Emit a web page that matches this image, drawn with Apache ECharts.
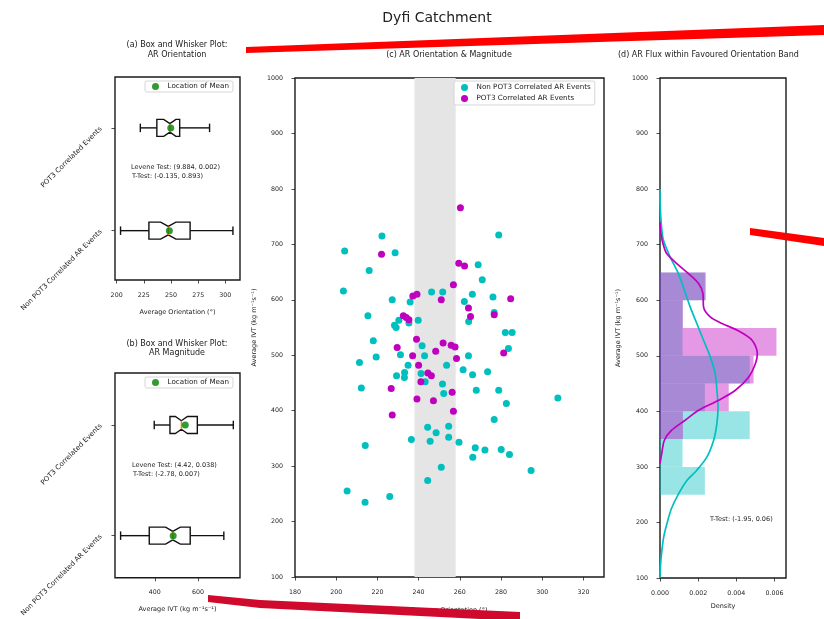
<!DOCTYPE html>
<html><head><meta charset="utf-8">
<script src="https://cdn.jsdelivr.net/npm/echarts@6/dist/echarts.min.js"></script>
<style>html,body{margin:0;padding:0;background:#fff}#c{width:824px;height:619px}</style>
</head><body><div id="c"></div>
<script>
// ---------------- DATA ----------------
const boxCategories = ['Non POT3 Correlated AR Events', 'POT3 Correlated Events'];
// [position, whiskerLow, q1, notchLow, median, notchHigh, q3, whiskerHigh]
const orientBoxes = [[1, 203.6, 229.7, 240.5, 247.5, 254.5, 267.6, 307.0],
                     [2, 221.8, 237.0, 243.3, 249.0, 254.5, 258.0, 285.5]];
const orientMeans = [[248.5, 1], [249.8, 2]];
const ivtBoxes = [[1, 241, 374, 450, 483, 518, 564, 720],
                  [2, 397, 470, 495, 523, 551, 597, 764]];
const ivtMeans = [[485, 1], [541, 2]];

const orientTicks = [200, 225, 250, 275, 300];
const ivtBoxTicks = [400, 600];
const scatterXTicks = [180, 200, 220, 240, 260, 280, 300, 320];
const ivtTicks = [100, 200, 300, 400, 500, 600, 700, 800, 900, 1000];
const densityTicks = [0, 0.002, 0.004, 0.006];

const favouredBand = [238, 258];

// [orientation (deg), IVT]
const nonPot3Events = [[222.2,715],[278.9,717],[204.1,688],[228.6,685],[216.0,653],[268.9,663],[270.9,636],[203.5,616],[227.2,600],[235.9,596],[246.3,614],[251.7,614],[266.1,610],[262.2,597],[276.1,605],[215.4,571],[230.4,563],[228.3,554],[229.1,550],[235.3,558],[239.8,563],[264.3,561],[276.7,577],[282.1,541],[285.4,541],[218.0,526],[241.7,517],[283.6,512],[211.3,487],[219.4,497],[231.2,501],[242.9,499],[264.2,499],[234.9,482],[253.6,482],[229.3,463],[233.2,469],[233.1,460],[241.2,467],[261.6,474],[266.2,465],[273.5,470],[243.2,452],[251.6,448],[212.2,441],[252.2,431],[268.0,437],[278.9,437],[307.6,423],[282.6,413],[276.7,384],[244.4,370],[254.6,372],[248.5,360],[254.6,352],[236.5,348],[245.6,345],[259.6,343],[214.1,337],[267.5,333],[272.2,329],[280.1,330],[284.1,321],[266.3,316],[251.0,298],[294.6,292],[244.4,274],[205.3,255],[226.0,245],[214.0,235]];
const pot3Events = [[260.3,766],[222.0,682],[259.5,666],[262.3,661],[256.9,627],[237.2,607],[239.2,610],[251.0,600],[284.7,602],[264.2,585],[232.6,571],[234.0,568],[235.3,564],[265.2,570],[276.7,573],[239.0,529],[251.9,522],[255.8,518],[257.7,515],[229.6,514],[248.3,507],[281.3,504],[237.1,499],[258.4,494],[240.0,482],[244.5,468],[246.2,463],[241.1,452],[226.7,440],[256.3,433],[239.2,421],[247.2,418],[256.9,399],[227.2,392]];

const ivtBinLow  = [250, 300, 350, 400, 450, 500, 550, 600];
const ivtBinHigh = [300, 350, 400, 450, 500, 550, 600, 650];
const nonPot3Density = [0.00235, 0.00118, 0.0047, 0.00235, 0.0047, 0.00118, 0.00118, 0.00235];
const pot3Density    = [0, 0, 0.0012, 0.0036, 0.0049, 0.0061, 0.0012, 0.0024];

// KDE curves [density, IVT]
const nonPot3Kde = [[0,800],[0.00001,775],[0.00004,750],[0.0001,725],[0.00018,708],[0.00053,678],[0.00096,648],[0.00128,618],[0.00158,588],[0.00193,558],[0.00228,528],[0.00263,498],[0.00289,468],[0.00298,438],[0.00304,408],[0.00298,378],[0.00281,348],[0.00246,318],[0.00193,294],[0.0014,275],[0.00095,250],[0.0006,225],[0.00038,200],[0.0002,175],[0.0001,150],[0.00003,125],[0,100]];
const pot3Kde = [[0,740],[0.00005,720],[0.00017,700],[0.00035,684],[0.00088,666],[0.00149,648],[0.00202,630],[0.00225,612],[0.00228,588],[0.00263,570],[0.00325,558],[0.00404,546],[0.00482,528],[0.0051,504],[0.005,486],[0.00465,462],[0.00395,438],[0.00307,420],[0.00202,402],[0.00132,384],[0.00061,366],[0.00023,348],[0.00009,324],[0,306]];

// ---------------- STYLE HELPERS ----------------
const FONT = 'DejaVu Sans';
const TXT = '#222';
const CYAN = '#00bfbf', MAG = '#bf00bf';

function boxRender(params, api) {
  const pos = api.value(0);
  const wl = api.value(1), q1 = api.value(2), nl = api.value(3), md = api.value(4),
        nh = api.value(5), q3 = api.value(6), wh = api.value(7);
  const h = 8.5;
  const y = api.coord([md, pos])[1];
  const X = v => api.coord([v, pos])[0];
  const ln = {stroke: '#111', lineWidth: 1.4};
  return {type: 'group', children: [
    {type: 'line', shape: {x1: X(wl), y1: y, x2: X(q1), y2: y}, style: ln},
    {type: 'line', shape: {x1: X(q3), y1: y, x2: X(wh), y2: y}, style: ln},
    {type: 'line', shape: {x1: X(wl), y1: y - h / 2, x2: X(wl), y2: y + h / 2}, style: ln},
    {type: 'line', shape: {x1: X(wh), y1: y - h / 2, x2: X(wh), y2: y + h / 2}, style: ln},
    {type: 'polygon', shape: {points: [[X(q1), y - h], [X(nl), y - h], [X(md), y - h / 2], [X(nh), y - h], [X(q3), y - h],
      [X(q3), y + h], [X(nh), y + h], [X(md), y + h / 2], [X(nl), y + h], [X(q1), y + h]]},
      style: {fill: '#fff', stroke: '#111', lineWidth: 1.4}},
    {type: 'line', shape: {x1: X(md), y1: y - h / 2, x2: X(md), y2: y + h / 2}, style: {stroke: '#ff7f0e', lineWidth: 1.4}}
  ]};
}
function histRender(color) {
  return function (params, api) {
    const lo = api.value(0), hi = api.value(1), d = api.value(2);
    const a = api.coord([0, hi]), b = api.coord([d, lo]);
    return {type: 'rect', shape: {x: a[0], y: a[1], width: b[0] - a[0], height: b[1] - a[1]}, style: {fill: color}};
  };
}
const histData = dens => ivtBinLow.map((lo, i) => [lo, ivtBinHigh[i], dens[i]]);

const tickStyle = {show: true, length: 3.5, lineStyle: {color: '#222', width: 0.8}};
const lblStyle = (extra) => Object.assign({fontSize: 6.3, fontFamily: FONT, color: TXT, margin: 12, formatter: v => String(v)}, extra || {});
const nameStyle = {fontSize: 6.5, fontFamily: FONT, color: TXT};
const gridBase = {show: true, borderColor: '#1a1a1a', borderWidth: 1.4, backgroundColor: 'transparent'};

function valueAxis(gridIndex, min, max, ticks, extra) {
  return Object.assign({
    type: 'value', gridIndex, min, max,
    axisLine: {show: false}, splitLine: {show: false},
    axisTick: Object.assign({}, tickStyle, {customValues: ticks}),
    axisLabel: lblStyle({customValues: ticks}),
    nameTextStyle: nameStyle
  }, extra || {});
}

const legendBase = {
  icon: 'circle', itemWidth: 14, itemHeight: 7, itemGap: 4,
  textStyle: {fontSize: 7.2, fontFamily: FONT, color: TXT},
  borderColor: '#cccccc', borderWidth: 0.8, borderRadius: 2, backgroundColor: '#fff',
  padding: [2, 4, 2, 7], selectedMode: false
};
const catLabel = {customValues: [1, 2], rotate: 45, fontSize: 7, margin: 14,
  formatter: v => boxCategories[Math.round(v) - 1]};

const chart = echarts.init(document.getElementById('c'), null, {renderer: 'canvas'});
chart.setOption({
  animation: false,
  backgroundColor: '#fff',
  grid: [
    Object.assign({left: 115, top: 77, width: 125, height: 203}, gridBase),
    Object.assign({left: 115, top: 373, width: 125, height: 205}, gridBase),
    Object.assign({left: 295, top: 78, width: 309, height: 499}, gridBase),
    Object.assign({left: 660, top: 78, width: 126, height: 500}, gridBase)
  ],
  xAxis: [
    valueAxis(0, 198.5, 313.5, orientTicks, {name: 'Average Orientation (°)', nameLocation: 'middle', nameGap: 29}),
    valueAxis(1, 215, 795, ivtBoxTicks, {name: 'Average IVT (kg m⁻¹s⁻¹)', nameLocation: 'middle', nameGap: 28}),
    valueAxis(2, 180, 330, scatterXTicks, {name: 'Average Orientation (°)', nameLocation: 'middle', nameGap: 30}),
    valueAxis(3, 0, 0.0066, densityTicks, {name: 'Density', nameLocation: 'middle', nameGap: 25,
      axisLabel: lblStyle({customValues: densityTicks, formatter: v => v.toFixed(3)})})
  ],
  yAxis: [
    valueAxis(0, 0.52, 2.495, [1, 2], {axisLabel: lblStyle(catLabel)}),
    valueAxis(1, 0.62, 2.47, [1, 2], {axisLabel: lblStyle(catLabel)}),
    valueAxis(2, 100, 1000, ivtTicks, {name: 'Average IVT (kg m⁻¹s⁻¹)', nameLocation: 'middle', nameGap: 37}),
    valueAxis(3, 100, 1000, ivtTicks, {name: 'Average IVT (kg m⁻¹s⁻¹)', nameLocation: 'middle', nameGap: 38})
  ],
  legend: [
    Object.assign({}, legendBase, {data: ['Location of Mean'], left: 145, top: 81}),
    Object.assign({}, legendBase, {data: ['Location of Mean'], left: 145, top: 377}),
    Object.assign({}, legendBase, {data: ['Non POT3 Correlated AR Events', 'POT3 Correlated AR Events'], orient: 'vertical', left: 454, top: 81, padding: [3, 4, 3, 7]})
  ],
  series: [
    {type: 'custom', name: 'orientBox', xAxisIndex: 0, yAxisIndex: 0, renderItem: boxRender, data: orientBoxes,
      encode: {x: [1, 2, 3, 4, 5, 6, 7], y: 0}, z: 2},
    {type: 'scatter', name: 'Location of Mean', xAxisIndex: 0, yAxisIndex: 0, data: orientMeans, symbolSize: 7,
      itemStyle: {color: '#008000'}, z: 5},
    {type: 'custom', name: 'ivtBox', xAxisIndex: 1, yAxisIndex: 1, renderItem: boxRender, data: ivtBoxes,
      encode: {x: [1, 2, 3, 4, 5, 6, 7], y: 0}, z: 2},
    {type: 'scatter', name: 'Location of Mean', xAxisIndex: 1, yAxisIndex: 1, data: ivtMeans, symbolSize: 7,
      itemStyle: {color: '#008000'}, z: 5},
    {type: 'scatter', name: 'Non POT3 Correlated AR Events', xAxisIndex: 2, yAxisIndex: 2, data: nonPot3Events,
      symbolSize: 7, itemStyle: {color: CYAN, opacity: 1}, z: 3,
      markArea: {silent: true, itemStyle: {color: '#e5e5e5'}, data: [[{xAxis: favouredBand[0]}, {xAxis: favouredBand[1]}]]}},
    {type: 'scatter', name: 'POT3 Correlated AR Events', xAxisIndex: 2, yAxisIndex: 2, data: pot3Events,
      symbolSize: 7, itemStyle: {color: MAG, opacity: 1}, z: 4},
    {type: 'custom', name: 'nonPot3Hist', xAxisIndex: 3, yAxisIndex: 3, renderItem: histRender('rgba(0,191,191,0.4)'),
      data: histData(nonPot3Density), encode: {x: 2, y: [0, 1]}, z: 2},
    {type: 'custom', name: 'pot3Hist', xAxisIndex: 3, yAxisIndex: 3, renderItem: histRender('rgba(191,0,191,0.4)'),
      data: histData(pot3Density), encode: {x: 2, y: [0, 1]}, z: 3},
    {type: 'line', name: 'nonPot3Kde', xAxisIndex: 3, yAxisIndex: 3, data: nonPot3Kde, showSymbol: false, smooth: 0.3,
      lineStyle: {color: CYAN, width: 1.7}, itemStyle: {color: CYAN}, z: 4},
    {type: 'line', name: 'pot3Kde', xAxisIndex: 3, yAxisIndex: 3, data: pot3Kde, showSymbol: false, smooth: 0.3,
      lineStyle: {color: MAG, width: 1.7}, itemStyle: {color: MAG}, z: 5}
  ],
  graphic: [
    {type: 'text', x: 437, y: 18, style: {text: 'Dyfi Catchment', fontSize: 14, fontFamily: FONT, fill: TXT, align: 'center', verticalAlign: 'middle'}},
    {type: 'text', x: 177, y: 45, style: {text: '(a) Box and Whisker Plot:', fontSize: 8, fontFamily: FONT, fill: TXT, align: 'center', verticalAlign: 'middle'}},
    {type: 'text', x: 177, y: 54.5, style: {text: 'AR Orientation', fontSize: 8, fontFamily: FONT, fill: TXT, align: 'center', verticalAlign: 'middle'}},
    {type: 'text', x: 177, y: 343.5, style: {text: '(b) Box and Whisker Plot:', fontSize: 8, fontFamily: FONT, fill: TXT, align: 'center', verticalAlign: 'middle'}},
    {type: 'text', x: 177, y: 353, style: {text: 'AR Magnitude', fontSize: 8, fontFamily: FONT, fill: TXT, align: 'center', verticalAlign: 'middle'}},
    {type: 'text', x: 449, y: 55, style: {text: '(c) AR Orientation & Magnitude', fontSize: 8, fontFamily: FONT, fill: TXT, align: 'center', verticalAlign: 'middle'}},
    {type: 'text', x: 618, y: 55, style: {text: '(d) AR Flux within Favoured Orientation Band', fontSize: 8, fontFamily: FONT, fill: TXT, align: 'left', verticalAlign: 'middle'}},
    {type: 'text', x: 131, y: 167.7, style: {text: 'Levene Test: (9.884, 0.002)', fontSize: 6.5, fontFamily: FONT, fill: TXT, align: 'left', verticalAlign: 'middle'}},
    {type: 'text', x: 132, y: 176, style: {text: 'T-Test: (-0.135, 0.893)', fontSize: 6.5, fontFamily: FONT, fill: TXT, align: 'left', verticalAlign: 'middle'}},
    {type: 'text', x: 132, y: 465, style: {text: 'Levene Test: (4.42, 0.038)', fontSize: 6.5, fontFamily: FONT, fill: TXT, align: 'left', verticalAlign: 'middle'}},
    {type: 'text', x: 133, y: 474, style: {text: 'T-Test: (-2.78, 0.007)', fontSize: 6.5, fontFamily: FONT, fill: TXT, align: 'left', verticalAlign: 'middle'}},
    {type: 'text', x: 710, y: 519.5, style: {text: 'T-Test: (-1.95, 0.06)', fontSize: 6.5, fontFamily: FONT, fill: TXT, align: 'left', verticalAlign: 'middle'}},
    {type: 'polygon', z: 100, shape: {points: [[246, 47], [824, 25], [824, 35], [246, 53]]}, style: {fill: '#ff0000'}},
    {type: 'polygon', z: 100, shape: {points: [[750, 228], [824, 238], [824, 246], [750, 235]]}, style: {fill: '#ff0000'}},
    {type: 'polygon', z: 100, shape: {points: [[208, 595], [260, 600], [520, 612], [520, 621], [260, 608], [208, 602]]}, style: {fill: '#cf0a2c'}}
  ]
});
</script></body></html>
